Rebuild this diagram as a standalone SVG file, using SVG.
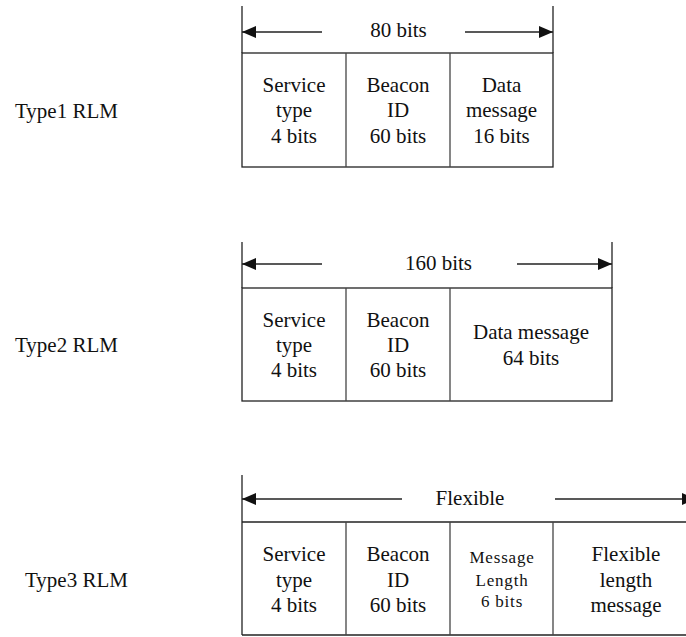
<svg xmlns="http://www.w3.org/2000/svg" width="686" height="637" viewBox="0 0 686 637">
<style>
text{font-family:"Liberation Serif","Times New Roman",serif;font-size:21px;fill:#111;text-anchor:middle}
.lbl{text-anchor:start}
.sm{font-size:17px;letter-spacing:0.8px}
.ln{stroke:#222;stroke-width:1.3;fill:none}
.dv{stroke:#444;stroke-width:1.3;fill:none}
.ar{stroke:#222;stroke-width:1.3;fill:none;marker-end:url(#ah)}
</style>
<defs>
<marker id="ah" viewBox="0 0 14 12" refX="14" refY="6" markerWidth="14" markerHeight="12" markerUnits="userSpaceOnUse" orient="auto">
<path d="M0,0 L14,6 L0,12 z" fill="#111"/>
</marker>
</defs>
<g id="labels">
<text class="lbl" x="15" y="118">Type1 RLM</text>
<text class="lbl" x="15" y="352">Type2 RLM</text>
<text class="lbl" x="25" y="587">Type3 RLM</text>
</g>
<g id="type1">
<rect class="ln" x="242" y="53" width="311" height="114"/>
<line class="ln" x1="242" y1="6" x2="242" y2="53"/>
<line class="ln" x1="553" y1="6" x2="553" y2="53"/>
<line class="dv" x1="346" y1="53" x2="346" y2="167"/>
<line class="dv" x1="450" y1="53" x2="450" y2="167"/>
<text x="398.5" y="37">80 bits</text>
<text x="294" y="92">Service</text><text x="294" y="117">type</text><text x="294" y="143">4 bits</text>
<text x="398" y="92">Beacon</text><text x="398" y="117">ID</text><text x="398" y="143">60 bits</text>
<text x="501.5" y="92">Data</text><text x="501.5" y="117">message</text><text x="501.5" y="143">16 bits</text>
</g>
<g id="type2">
<rect class="ln" x="242" y="288" width="370" height="113"/>
<line class="ln" x1="242" y1="242" x2="242" y2="288"/>
<line class="ln" x1="612" y1="242" x2="612" y2="288"/>
<line class="dv" x1="346" y1="288" x2="346" y2="401"/>
<line class="dv" x1="450" y1="288" x2="450" y2="401"/>
<text x="438.5" y="270">160 bits</text>
<text x="294" y="327">Service</text><text x="294" y="352">type</text><text x="294" y="377">4 bits</text>
<text x="398" y="327">Beacon</text><text x="398" y="352">ID</text><text x="398" y="377">60 bits</text>
<text x="531" y="339">Data message</text><text x="531" y="365">64 bits</text>
</g>
<g id="type3">
<line class="ln" x1="242" y1="475" x2="242" y2="635"/>
<line class="ln" x1="242" y1="522" x2="686" y2="522"/>
<line class="ln" x1="242" y1="635" x2="686" y2="635"/>
<line class="dv" x1="346" y1="522" x2="346" y2="635"/>
<line class="dv" x1="450" y1="522" x2="450" y2="635"/>
<line class="dv" x1="553" y1="522" x2="553" y2="635"/>
<text x="470" y="505">Flexible</text>
<text x="294" y="561">Service</text><text x="294" y="587">type</text><text x="294" y="612">4 bits</text>
<text x="398" y="561">Beacon</text><text x="398" y="587">ID</text><text x="398" y="612">60 bits</text>
<text class="sm" x="502" y="563">Message</text><text class="sm" x="502" y="586">Length</text><text class="sm" x="502" y="607">6 bits</text>
<text x="626" y="561">Flexible</text><text x="626" y="587">length</text><text x="626" y="612">message</text>
</g>
<g id="connectors">
<line class="ar" x1="322" y1="32" x2="242" y2="32"/>
<line class="ar" x1="465" y1="32" x2="553" y2="32"/>
<line class="ar" x1="322" y1="264" x2="242" y2="264"/>
<line class="ar" x1="517" y1="264" x2="612" y2="264"/>
<line class="ar" x1="402" y1="499" x2="242" y2="499"/>
<line class="ar" x1="555" y1="499" x2="696" y2="499"/>
</g>
</svg>
